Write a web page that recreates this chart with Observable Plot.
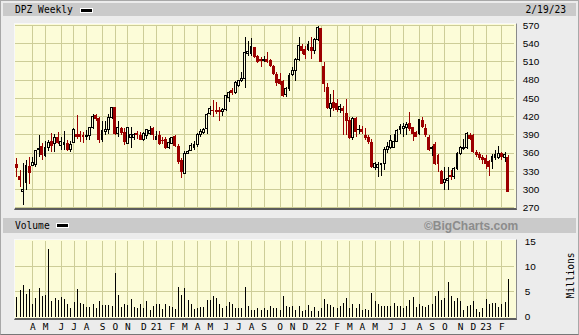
<!DOCTYPE html>
<html><head><meta charset="utf-8">
<script src="https://cdn.jsdelivr.net/npm/d3@7"></script>
<script src="https://cdn.jsdelivr.net/npm/@observablehq/plot@0.6"></script>
<style>
body{margin:0;background:#fff;}
#wrap{position:relative;width:579px;height:335px;background:#ececec;overflow:hidden;box-sizing:border-box;border:1px solid #a8a8a8;border-bottom-color:#777;}
.bar{position:absolute;background:#cacaca;}
.mono{position:absolute;font-family:"DejaVu Sans Mono",monospace;font-size:9.6px;color:#000;line-height:13px;white-space:nowrap;}
.panel{position:absolute;box-sizing:border-box;background:#fcfcd8;border-top:1px solid #f8f8f8;border-left:1px solid #f8f8f8;border-right:1px solid #8a8a8a;border-bottom:2px solid #5c5c5c;}
.sw{position:absolute;background:#000;border:1px solid #fff;}
svg{position:absolute;left:0;}
</style></head><body>
<div id="wrap">
  <div class="bar" style="left:2px;top:2px;width:573px;height:13px;"></div>
  <div class="mono" style="left:14px;top:2px;">DPZ Weekly</div>
  <div class="sw" style="left:79px;top:7px;width:11px;height:3px;"></div>
  <div class="mono" style="right:12px;top:2px;">2/19/23</div>
  <div class="panel" style="left:13px;top:22px;width:503px;height:187px;"></div>
  <div class="bar" style="left:2px;top:217px;width:573px;height:15px;"></div>
  <div class="mono" style="left:14px;top:218px;">Volume</div>
  <div class="sw" style="left:55px;top:222px;width:11px;height:3px;"></div>
  <div style="position:absolute;left:423px;top:218px;font-family:'Liberation Sans',Arial,sans-serif;font-weight:bold;font-size:12px;line-height:14px;color:#8c8c8c;">©BigCharts.com</div>
  <div class="panel" style="left:13px;top:238px;width:503px;height:81px;"></div>
  <div class="mono" style="left:545px;top:268px;transform:rotate(-90deg);transform-origin:center;width:48px;text-align:center;">Millions</div>
  <div id="price"></div>
  <div id="vol"></div>
</div>
<script>
// Weekly candles, oldest first (DPZ, Mar 2020 - Feb 2023)
const open = [340.5,321.4,295.7,310,338.3,338.3,340.5,364.6,370,355.3,367.9,378.8,375.5,385.3,371.1,373.3,375.5,364.6,377.1,390.8,390.8,389.7,387,387.5,401.7,422.5,417,381,394.1,397.4,
418.1,434.5,390.8,400.6,393.5,375.5,385.3,384.2,393,389.2,381.5,388.1,390.8,400.1,381.5,389.7,381.5,382.6,367.9,375.5,387,370,348.2,326.3,359.1,363.5,369,373.3,389.7,393.5,
399,423.6,430.1,430.1,429.6,428,430.1,449.8,463,459.1,470,478.2,482.6,523,523,532.9,519.2,513.2,511,513.7,512.1,502.8,489.2,481,478.2,455.3,464.6,489.2,494.6,513.7,
535.6,530.2,530.2,534,527.4,546.5,564.5,502.8,467.3,431.8,442.7,441.1,430.1,433.4,424.7,413.7,385.3,417,397.9,399,389.7,385.3,377.1,335.1,336.2,340.5,341.6,364.6,369,369,
378.8,397.4,399,400.6,408.3,401.7,393.5,390.8,413.7,400.6,386.4,366.2,374.4,355.3,329.6,310,314.3,322.5,320.9,333.4,359.1,366.2,367.9,389.2,388.1,360.7,358,352.6,351.5,346,
346,351.5,352.6,359.1,352.6,352.6];
const high = [351.5,331.8,343.3,348.2,352.6,352.6,364.6,388.1,376.1,378.8,381,393,390.8,393.5,385.3,395.2,379.9,378.8,400.6,422.5,396.3,393.5,397.4,401.7,423.6,423.6,418.1,412.6,412.6,423.6,
435.6,435.6,411.6,401.7,400.6,402.8,401.7,391.9,395.2,393.5,394.6,399,404.4,402.8,396.3,396.3,385.3,386.4,384.2,386.4,388.1,373.3,351.5,362.4,364.6,375.5,378.8,391.9,399,400.6,
424.7,437.2,446.5,442.7,435.6,433.4,455.3,461.8,466.2,477.1,479.3,491.9,549.3,543.8,548.2,534,520.8,517.6,519.2,524.7,513.7,504.4,491.9,490.2,479.3,467.3,490.2,500.1,515.4,550.4,
539.4,535.6,543.8,549.3,548.2,568.4,565.6,508.3,473.9,456.4,462.9,448.2,440,437.2,448.2,418.1,418.1,419.2,406.1,404.4,400.6,388.1,382.6,344.4,344.4,342.7,369,377.1,388.1,390.8,
399,407.2,408.3,409.9,426.3,402.8,396.3,415.4,418.1,407.2,388.1,370,377.1,358,330.7,336.2,336.2,330.7,336.2,360.7,370,382.6,393.5,391.9,390.8,363.5,360.7,355.3,355.3,347.1,
357,363.5,370,360.7,360.7,355.3];
const low = [319.8,303.4,274.4,297.9,307.8,337.8,336.2,352.6,348.2,352.6,362.4,360.7,360.7,373.3,364.6,363.5,362.4,360.7,375.5,382.6,377.1,375.5,381.5,381,399,412.6,375.5,377.1,389.7,390.8,
415.4,388.1,385.3,388.1,371.7,373.3,367.9,379.9,382.6,379.9,378.8,382.6,388.1,381,379.9,371.7,373.3,366.2,366.2,373.3,369,341.6,318.7,324.1,357,362.4,364.6,369,386.4,390.8,
390.8,422.5,418.1,423.6,412.6,420.8,428,442.7,455.3,456.4,468.4,475.5,466.2,519.2,519.2,515.4,506.6,500.1,508.3,506.6,500.1,488.1,470,471.7,452,452,461.8,486.4,477.1,511,
522,513.7,527.4,513.7,522,543.8,508.3,459.1,431.8,419.2,429.1,426.3,424.7,388.1,388.1,382.6,381,385.3,390.8,390.8,379.9,374.4,335.1,331.8,319.8,320.9,331.8,359.1,366.2,367.9,
377.1,390.8,385.3,388.1,396.3,378.8,385.3,388.1,400.6,386.4,362.4,353.6,338.9,328,307.7,299,299,314.3,317,330.7,355.3,363.5,366.2,381,359.1,352.6,347.1,341.6,333.4,320.9,
333.4,347.1,349.8,347.1,344.4,295.2];
const close = [334.5,314.9,299,338.3,326.3,343.3,363.5,367.3,355.3,368.4,377.1,371.1,385.3,376.1,378.8,377.1,364.6,372.8,398.4,386.4,385.3,385.3,388.1,400.6,419.2,414.8,381,396.3,397.4,418.1,
434.5,390.8,400.6,393,377.1,400.6,389.7,389.2,388.1,381.5,390.8,397.4,396.3,389.2,387,374.4,378.8,367.9,376.1,385.3,370,344.4,328,359.1,362.4,371.7,373.3,389.7,394.1,397.9,
422.5,431.8,428,427.5,427.5,430.1,453.1,459.1,457.5,474.9,478.2,482.6,524.7,526.3,534,517.6,508.3,510,513.7,509.4,502.8,489.2,473.9,472.8,453.6,464.6,487,495.7,513.7,535.6,
527.4,520.8,538.3,527.4,546.5,565.6,508.3,472.8,433.4,440,433.4,430.1,435.6,428,412.7,384.2,415.4,393.5,398.4,393.5,384.2,377.1,336.2,341.6,340.5,341.6,364.6,370,379.9,378.8,
396.3,402.8,402.8,406.1,399,390.8,386.4,413.7,402.8,388.1,363.5,367.9,340.5,341.6,308.8,315.4,317,319.8,333.4,359.1,367.9,369,390.8,382.6,360.7,355.3,351.5,347.1,340.5,336.2,
353.6,357,359.1,352.6,357,295.2];
// Weekly volume, millions of shares
const volume = [3.9,5.2,6.3,4.5,5.4,2.6,3.7,5.7,4.1,4.3,13.4,3.2,3.7,3.4,3.9,3.5,2.6,1.8,3.0,5.5,2.8,2.5,2.0,2.0,2.6,1.7,3.2,2.4,2.4,2.4,
2.2,8.7,4.3,2.0,2.5,2.4,3.5,2.0,1.7,2.5,1.7,3.2,1.4,2.1,2.5,2.5,1.6,2.5,2.1,2.0,1.6,5.8,4.3,5.6,3.4,2.6,1.6,1.7,2.0,2.0,
3.3,3.3,4.1,3.7,2.5,1.7,2.2,2.9,2.6,1.8,1.7,1.8,5.9,2.2,1.4,1.4,1.8,1.4,1.7,1.3,2.2,1.7,1.7,1.4,4.2,2.2,2.0,2.1,1.4,2.2,
1.2,1.3,2.4,1.1,2.0,1.1,1.7,3.6,2.5,2.4,2.0,1.7,2.2,2.8,3.8,1.7,2.5,1.7,2.5,1.3,1.6,1.4,4.7,3.2,2.5,2.1,2.2,2.1,2.2,2.7,
2.2,2.1,1.8,2.2,3.3,3.9,2.0,2.5,2.2,2.0,2.3,2.6,4.2,5.1,3.4,3.7,6.9,4.1,3.2,3.7,3.2,1.4,2.2,2.4,3.2,1.6,0.9,1.7,3.5,2.6,
2.7,2.7,2.0,2.5,3.0,7.5];
// Month ticks: week index of the first bar of each month, and its label
const monthTickIndex = [5,9,14,18,22,27,31,35,40,44,49,53,57,61,66,70,74,78,83,87,91,96,101,105,109,113,118,122,127,131,135,140,144,148,153];
const monthTickLabel = ["A","M","J","J","A","S","O","N","D","21","F","M","A","M","J","J","A","S","O","N","D","22","F","M","A","M","J","J","A","S","O","N","D","23","F"];
const priceTicks = [270,300,330,360,390,420,450,480,510,540,570];
const volumeTicks = [0,5,10,15];

const RED = "#9c0000", GRID = "#cdcd98", BG = "#fcfcd8";
const N = open.length;
const candles = open.map((o, i) => ({i, open: o, high: high[i], low: low[i], close: close[i], vol: volume[i]}));
const up = candles.filter(d => d.close >= d.open);
const down = candles.filter(d => d.close < d.open);
const labelOf = new Map(monthTickIndex.map((d, i) => [d, monthTickLabel[i]]));
const xOpts = {type: "band", domain: d3.range(N), range: [13.9, 510.1], padding: 0, round: false, axis: null};
const style = {background: "transparent", fontFamily: "'Liberation Sans', Arial, sans-serif", fontSize: "10px", color: "#000", overflow: "visible"};

const price = Plot.plot({
  width: 579, height: 215, marginTop: 24, marginBottom: 8, marginLeft: 14, marginRight: 64,
  style,
  x: xOpts,
  y: {domain: [270, 570], axis: null},
  marks: [
    Plot.ruleY(priceTicks, {stroke: GRID, shapeRendering: "crispEdges"}),
    Plot.ruleX(monthTickIndex, {x: d => d, stroke: GRID, shapeRendering: "crispEdges"}),
    Plot.axisY(priceTicks, {anchor: "right", tickSize: 0, tickPadding: 8, label: null, fill: "#000"}),
    Plot.ruleX(down, {x: "i", y1: "low", y2: "high", stroke: RED, shapeRendering: "crispEdges"}),
    Plot.ruleX(up, {x: "i", y1: "low", y2: "high", stroke: "#000", shapeRendering: "crispEdges"}),
    Plot.barY(down, {x: "i", y1: "open", y2: "close", fill: RED, insetLeft: 0.1, insetRight: 0.1, shapeRendering: "crispEdges"}),
    Plot.barY(up, {x: "i", y1: "open", y2: "close", fill: BG, stroke: "#000", insetLeft: 0.7, insetRight: 0.7, shapeRendering: "crispEdges"})
  ]
});
price.style.top = "0px";
document.getElementById("price").appendChild(price);

const vol = Plot.plot({
  width: 579, height: 100, marginTop: 5, marginBottom: 19, marginLeft: 14, marginRight: 64,
  style,
  x: xOpts,
  y: {domain: [0, 15], axis: null},
  marks: [
    Plot.ruleY([5, 10], {stroke: GRID, shapeRendering: "crispEdges"}),
    Plot.ruleX(monthTickIndex, {x: d => d, stroke: GRID, shapeRendering: "crispEdges"}),
    Plot.axisY(volumeTicks, {anchor: "right", tickSize: 0, tickPadding: 10, label: null, fill: "#000"}),
    Plot.axisX(monthTickIndex, {tickSize: 0, tickPadding: 6, label: null, tickFormat: d => labelOf.get(d), fontFamily: "DejaVu Sans Mono, monospace", fontSize: 9.5, fill: "#000"}),
    Plot.ruleX(candles, {x: "i", y1: 0, y2: "vol", stroke: "#000", shapeRendering: "crispEdges"})
  ]
});
vol.style.top = "235px";
document.getElementById("vol").appendChild(vol);
</script>
</body></html>
